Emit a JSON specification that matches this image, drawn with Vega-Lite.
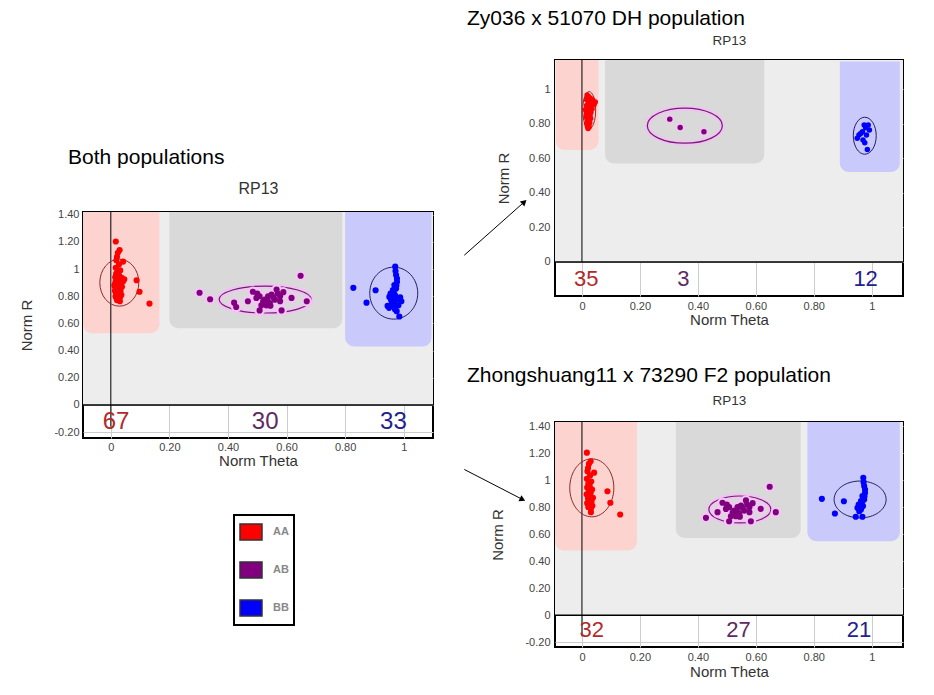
{
  "$schema": "https://vega.github.io/schema/vega-lite/v6.json",
  "padding": {"left": 18, "top": 7, "right": 5, "bottom": 5},
  "background": "white",
  "config": {
    "font": "Liberation Sans",
    "view": {"stroke": "black", "strokeWidth": 2, "fill": "white"},
    "axis": {"grid": true, "gridColor": "#cccccc", "gridWidth": 1, "ticks": false, "domain": false, "labelOverlap": false, "labelFont": "Liberation Sans", "labelFontSize": 11, "labelColor": "#444444", "titleFont": "Liberation Sans", "titleFontSize": 15, "titleFontWeight": "normal", "titleColor": "#333333"},
    "title": {"font": "Liberation Sans", "fontWeight": "normal", "color": "black", "fontSize": 21, "anchor": "start", "frame": "group"}
  },
  "datasets": {
    "pts": [
      {"pop":"DH","g":"AA","t":0.018,"r":0.965},{"pop":"DH","g":"AA","t":0.024,"r":0.955},{"pop":"DH","g":"AA","t":0.030,"r":0.945},{"pop":"DH","g":"AA","t":0.015,"r":0.940},{"pop":"DH","g":"AA","t":0.037,"r":0.936},
      {"pop":"DH","g":"AA","t":0.046,"r":0.925},{"pop":"DH","g":"AA","t":0.021,"r":0.930},{"pop":"DH","g":"AA","t":0.027,"r":0.920},{"pop":"DH","g":"AA","t":0.033,"r":0.915},{"pop":"DH","g":"AA","t":0.042,"r":0.910},
      {"pop":"DH","g":"AA","t":0.016,"r":0.905},{"pop":"DH","g":"AA","t":0.024,"r":0.900},{"pop":"DH","g":"AA","t":0.030,"r":0.895},{"pop":"DH","g":"AA","t":0.019,"r":0.890},{"pop":"DH","g":"AA","t":0.035,"r":0.885},
      {"pop":"DH","g":"AA","t":0.012,"r":0.880},{"pop":"DH","g":"AA","t":0.026,"r":0.875},{"pop":"DH","g":"AA","t":0.021,"r":0.870},{"pop":"DH","g":"AA","t":0.031,"r":0.865},{"pop":"DH","g":"AA","t":0.016,"r":0.860},
      {"pop":"DH","g":"AA","t":0.025,"r":0.855},{"pop":"DH","g":"AA","t":0.020,"r":0.850},{"pop":"DH","g":"AA","t":0.028,"r":0.845},{"pop":"DH","g":"AA","t":0.014,"r":0.840},{"pop":"DH","g":"AA","t":0.023,"r":0.835},
      {"pop":"DH","g":"AA","t":0.030,"r":0.830},{"pop":"DH","g":"AA","t":0.018,"r":0.825},{"pop":"DH","g":"AA","t":0.025,"r":0.820},{"pop":"DH","g":"AA","t":0.020,"r":0.810},{"pop":"DH","g":"AA","t":0.027,"r":0.805},
      {"pop":"DH","g":"AA","t":0.016,"r":0.800},{"pop":"DH","g":"AA","t":0.023,"r":0.795},{"pop":"DH","g":"AA","t":0.019,"r":0.785},{"pop":"DH","g":"AA","t":0.025,"r":0.780},{"pop":"DH","g":"AA","t":0.021,"r":0.772},
      {"pop":"DH","g":"AB","t":0.303,"r":0.826},{"pop":"DH","g":"AB","t":0.339,"r":0.778},{"pop":"DH","g":"AB","t":0.421,"r":0.753},
      {"pop":"DH","g":"BB","t":0.985,"r":0.651},{"pop":"DH","g":"BB","t":0.968,"r":0.753},{"pop":"DH","g":"BB","t":0.956,"r":0.734},{"pop":"DH","g":"BB","t":0.950,"r":0.715},{"pop":"DH","g":"BB","t":0.979,"r":0.776},
      {"pop":"DH","g":"BB","t":0.988,"r":0.792},{"pop":"DH","g":"BB","t":0.974,"r":0.792},{"pop":"DH","g":"BB","t":0.962,"r":0.743},{"pop":"DH","g":"BB","t":0.982,"r":0.734},{"pop":"DH","g":"BB","t":0.970,"r":0.705},
      {"pop":"DH","g":"BB","t":0.992,"r":0.763},{"pop":"DH","g":"BB","t":0.976,"r":0.690},
      {"pop":"F2","g":"AA","t":0.017,"r":1.203},{"pop":"F2","g":"AA","t":0.030,"r":1.140},{"pop":"F2","g":"AA","t":0.024,"r":1.120},{"pop":"F2","g":"AA","t":0.021,"r":1.090},{"pop":"F2","g":"AA","t":0.042,"r":1.055},
      {"pop":"F2","g":"AA","t":0.019,"r":1.065},{"pop":"F2","g":"AA","t":0.028,"r":1.035},{"pop":"F2","g":"AA","t":0.017,"r":1.010},{"pop":"F2","g":"AA","t":0.032,"r":0.990},{"pop":"F2","g":"AA","t":0.022,"r":0.975},
      {"pop":"F2","g":"AA","t":0.027,"r":0.955},{"pop":"F2","g":"AA","t":0.018,"r":0.945},{"pop":"F2","g":"AA","t":0.035,"r":0.930},{"pop":"F2","g":"AA","t":0.024,"r":0.920},{"pop":"F2","g":"AA","t":0.030,"r":0.905},
      {"pop":"F2","g":"AA","t":0.016,"r":0.895},{"pop":"F2","g":"AA","t":0.026,"r":0.885},{"pop":"F2","g":"AA","t":0.038,"r":0.870},{"pop":"F2","g":"AA","t":0.021,"r":0.865},{"pop":"F2","g":"AA","t":0.029,"r":0.850},
      {"pop":"F2","g":"AA","t":0.033,"r":0.840},{"pop":"F2","g":"AA","t":0.018,"r":0.830},{"pop":"F2","g":"AA","t":0.025,"r":0.820},{"pop":"F2","g":"AA","t":0.036,"r":0.810},{"pop":"F2","g":"AA","t":0.022,"r":0.800},
      {"pop":"F2","g":"AA","t":0.031,"r":0.790},{"pop":"F2","g":"AA","t":0.027,"r":0.910},{"pop":"F2","g":"AA","t":0.031,"r":0.763},{"pop":"F2","g":"AA","t":0.088,"r":0.918},{"pop":"F2","g":"AA","t":0.098,"r":0.833},
      {"pop":"F2","g":"AA","t":0.132,"r":0.746},{"pop":"F2","g":"AA","t":0.023,"r":0.960},
      {"pop":"F2","g":"AB","t":0.648,"r":0.951},{"pop":"F2","g":"AB","t":0.428,"r":0.721},{"pop":"F2","g":"AB","t":0.468,"r":0.763},{"pop":"F2","g":"AB","t":0.508,"r":0.696},{"pop":"F2","g":"AB","t":0.583,"r":0.696},
      {"pop":"F2","g":"AB","t":0.617,"r":0.788},{"pop":"F2","g":"AB","t":0.669,"r":0.763},{"pop":"F2","g":"AB","t":0.485,"r":0.833},{"pop":"F2","g":"AB","t":0.508,"r":0.800},{"pop":"F2","g":"AB","t":0.525,"r":0.775},
      {"pop":"F2","g":"AB","t":0.543,"r":0.750},{"pop":"F2","g":"AB","t":0.560,"r":0.775},{"pop":"F2","g":"AB","t":0.578,"r":0.800},{"pop":"F2","g":"AB","t":0.566,"r":0.850},{"pop":"F2","g":"AB","t":0.549,"r":0.812},
      {"pop":"F2","g":"AB","t":0.531,"r":0.733},{"pop":"F2","g":"AB","t":0.514,"r":0.733},{"pop":"F2","g":"AB","t":0.497,"r":0.787},{"pop":"F2","g":"AB","t":0.578,"r":0.763},{"pop":"F2","g":"AB","t":0.589,"r":0.830},
      {"pop":"F2","g":"AB","t":0.537,"r":0.800},{"pop":"F2","g":"AB","t":0.520,"r":0.760},{"pop":"F2","g":"AB","t":0.555,"r":0.790},{"pop":"F2","g":"AB","t":0.570,"r":0.820},{"pop":"F2","g":"AB","t":0.500,"r":0.820},
      {"pop":"F2","g":"AB","t":0.545,"r":0.730},{"pop":"F2","g":"AB","t":0.535,"r":0.770},
      {"pop":"F2","g":"BB","t":0.828,"r":0.862},{"pop":"F2","g":"BB","t":0.873,"r":0.753},{"pop":"F2","g":"BB","t":0.904,"r":0.844},{"pop":"F2","g":"BB","t":0.945,"r":0.729},{"pop":"F2","g":"BB","t":0.968,"r":0.729},
      {"pop":"F2","g":"BB","t":0.971,"r":1.018},{"pop":"F2","g":"BB","t":0.974,"r":0.956},{"pop":"F2","g":"BB","t":0.977,"r":0.907},{"pop":"F2","g":"BB","t":0.968,"r":0.882},{"pop":"F2","g":"BB","t":0.974,"r":0.857},
      {"pop":"F2","g":"BB","t":0.966,"r":0.832},{"pop":"F2","g":"BB","t":0.970,"r":0.808},{"pop":"F2","g":"BB","t":0.957,"r":0.808},{"pop":"F2","g":"BB","t":0.963,"r":0.783},{"pop":"F2","g":"BB","t":0.955,"r":0.820},
      {"pop":"F2","g":"BB","t":0.972,"r":0.985},{"pop":"F2","g":"BB","t":0.977,"r":0.930},{"pop":"F2","g":"BB","t":0.963,"r":0.845},{"pop":"F2","g":"BB","t":0.957,"r":0.770},{"pop":"F2","g":"BB","t":0.951,"r":0.795},
      {"pop":"F2","g":"BB","t":0.975,"r":0.880}
    ],
    "regions": [
      {"panel":"L","g":"bg","x1":-0.095,"x2":1.1,"y1":0,"y2":1.42},
      {"panel":"L","g":"AA","x1":-0.095,"x2":0.166,"y1":0.528,"y2":1.42},
      {"panel":"L","g":"AB","x1":0.2,"x2":0.79,"y1":0.565,"y2":1.42},
      {"panel":"L","g":"BB","x1":0.8,"x2":1.095,"y1":0.43,"y2":1.42},
      {"panel":"T","g":"bg","x1":-0.093,"x2":1.108,"y1":0,"y2":1.168},
      {"panel":"T","g":"AA","x1":-0.09,"x2":0.057,"y1":0.647,"y2":1.168},
      {"panel":"T","g":"AB","x1":0.08,"x2":0.629,"y1":0.57,"y2":1.168},
      {"panel":"T","g":"BB","x1":0.89,"x2":1.097,"y1":0.52,"y2":1.16},
      {"panel":"B","g":"bg","x1":-0.093,"x2":1.108,"y1":0,"y2":1.43},
      {"panel":"B","g":"AA","x1":-0.093,"x2":0.19,"y1":0.48,"y2":1.43},
      {"panel":"B","g":"AB","x1":0.324,"x2":0.755,"y1":0.573,"y2":1.43},
      {"panel":"B","g":"BB","x1":0.778,"x2":1.097,"y1":0.548,"y2":1.43}
    ],
    "ells": [
      {"panel":"L","g":"AA","t":0.029,"r":0.9},
      {"panel":"L","g":"AB","t":0.527,"r":0.776},
      {"panel":"L","g":"BB","t":0.966,"r":0.823},
      {"panel":"T","g":"AA","t":0.025,"r":0.878},
      {"panel":"T","g":"AB","t":0.355,"r":0.788},
      {"panel":"T","g":"BB","t":0.976,"r":0.73},
      {"panel":"B","g":"AA","t":0.034,"r":0.943},
      {"panel":"B","g":"AB","t":0.545,"r":0.783},
      {"panel":"B","g":"BB","t":0.96,"r":0.857}
    ],
    "counts": [
      {"panel":"L","g":"AA","t":0.018,"r":-0.123,"n":"67"},
      {"panel":"L","g":"AB","t":0.527,"r":-0.123,"n":"30"},
      {"panel":"L","g":"BB","t":0.965,"r":-0.123,"n":"33"},
      {"panel":"T","g":"AA","t":0.015,"r":-0.096,"n":"35"},
      {"panel":"T","g":"AB","t":0.35,"r":-0.096,"n":"3"},
      {"panel":"T","g":"BB","t":0.979,"r":-0.096,"n":"12"},
      {"panel":"B","g":"AA","t":0.034,"r":-0.106,"n":"32"},
      {"panel":"B","g":"AB","t":0.54,"r":-0.106,"n":"27"},
      {"panel":"B","g":"BB","t":0.956,"r":-0.106,"n":"21"}
    ],
    "arrows": [
      {"panel":"T","t1":-0.406,"r1":0.039,"t2":-0.199,"r2":0.347},
      {"panel":"B","t1":-0.406,"r1":1.079,"t2":-0.205,"r2":0.857}
    ]
  },
  "spacing": 27,
  "hconcat": [
    {
      "bounds": "flush",
      "spacing": 132,
      "vconcat": [
        {
          "width": 350, "height": 20,
          "view": {"stroke": null},
          "data": {"values": [{}]},
          "mark": {"type": "text", "text": " "}
        },
        {
          "width": 350, "height": 226,
          "title": {"text": "Both populations", "dx": -15, "offset": 12},
          "resolve": {"axis": {"x": "independent"}},
          "layer": [
            {"data":{"name":"regions"},"transform":[{"filter":"datum.panel==='L' && datum.g==='bg'"}],
             "mark":{"type":"rect","color":"#ededed"},
             "encoding":{
               "x":{"field":"x1","type":"quantitative","scale":{"domain":[-0.095,1.1],"nice":false,"zero":false},
                    "axis":{"title":"Norm Theta","values":[0,0.2,0.4,0.6,0.8,1],"tickCount":12,"labelOverlap":false,"labelExpr":"datum.value == 0 ? '0' : datum.value == 1 ? '1' : (datum.value < 0 ? '-' : '') + format(abs(datum.value), '.2f')","labelPadding":3,"titlePadding":1}},
               "x2":{"field":"x2"},
               "y":{"field":"y1","type":"quantitative","scale":{"domain":[-0.243,1.42],"nice":false,"zero":false},
                    "axis":{"title":"Norm R","values":[-0.2,0,0.2,0.4,0.6,0.8,1,1.2,1.4],"tickCount":12,"labelOverlap":false,"labelExpr":"datum.value == 0 ? '0' : datum.value == 1 ? '1' : (datum.value < 0 ? '-' : '') + format(abs(datum.value), '.2f')","labelPadding":4,"titlePadding":19}},
               "y2":{"field":"y2"}}},
            {"data":{"name":"regions"},"transform":[{"filter":"datum.panel==='L' && datum.g!=='bg'"}],
             "mark":{"type":"rect","cornerRadiusBottomLeft":9,"cornerRadiusBottomRight":9},
             "encoding":{"x":{"field":"x1","type":"quantitative","axis":{"orient":"top","title":"RP13","labels":false,"ticks":false,"grid":false,"domain":false,"titleFontSize":16,"titleColor":"#333333","titlePadding":16}},"x2":{"field":"x2"},"y":{"field":"y1","type":"quantitative"},"y2":{"field":"y2"},
               "color":{"condition":[{"test":"datum.g==='AA'","value":"#fdd3d0"},{"test":"datum.g==='AB'","value":"#d9d9d9"}],"value":"#c9c9fb"}}},
            {"data":{"values":[{}]},"mark":{"type":"rule","color":"black","strokeWidth":1.5},"encoding":{"y":{"datum":0}}},
            {"data":{"values":[{}]},"mark":{"type":"rule","color":"black","strokeWidth":1},"encoding":{"x":{"datum":0,"axis":null},"y":{"datum":-0.16},"y2":{"datum":1.42}}},
            {"data":{"name":"counts"},"transform":[{"filter":"datum.panel==='L'"}],
             "mark":{"type":"text","fontSize":24,"font":"Liberation Sans","baseline":"middle","align":"center"},
             "encoding":{"x":{"field":"t","type":"quantitative","axis":null},"y":{"field":"r","type":"quantitative"},"text":{"field":"n"},
               "color":{"condition":[{"test":"datum.g==='AA'","value":"#b22b2b"},{"test":"datum.g==='AB'","value":"#5e2a63"}],"value":"#22228a"}}},
            {"data":{"name":"ells"},"transform":[{"filter":"datum.panel==='L' && datum.g==='AA'"}],
             "mark":{"type":"point","shape":"M -0.83 0 A 0.83 1 0 1 0 0.83 0 A 0.83 1 0 1 0 -0.83 0 Z","size":2209,"filled":false,"stroke":"#8b2a2a","strokeWidth":1,"opacity":1},
             "encoding":{"x":{"field":"t","type":"quantitative","axis":null},"y":{"field":"r","type":"quantitative"}}},
            {"data":{"name":"ells"},"transform":[{"filter":"datum.panel==='L' && datum.g==='AB'"}],
             "mark":{"type":"point","shape":"M -1 0 A 1 0.293 0 1 0 1 0 A 1 0.293 0 1 0 -1 0 Z","size":8464,"filled":false,"stroke":"#f3c1f3","strokeWidth":5,"opacity":1},
             "encoding":{"x":{"field":"t","type":"quantitative","axis":null},"y":{"field":"r","type":"quantitative"}}},
            {"data":{"name":"ells"},"transform":[{"filter":"datum.panel==='L' && datum.g==='AB'"}],
             "mark":{"type":"point","shape":"M -1 0 A 1 0.293 0 1 0 1 0 A 1 0.293 0 1 0 -1 0 Z","size":8464,"filled":false,"stroke":"#6f1f6f","strokeWidth":1.2,"opacity":1},
             "encoding":{"x":{"field":"t","type":"quantitative","axis":null},"y":{"field":"r","type":"quantitative"}}},
            {"data":{"name":"ells"},"transform":[{"filter":"datum.panel==='L' && datum.g==='BB'"}],
             "mark":{"type":"point","shape":"M -0.923 0 A 0.923 1 0 1 0 0.923 0 A 0.923 1 0 1 0 -0.923 0 Z","size":2704,"filled":false,"stroke":"#202060","strokeWidth":1,"opacity":1},
             "encoding":{"x":{"field":"t","type":"quantitative","axis":null},"y":{"field":"r","type":"quantitative"}}},
            {"data":{"name":"pts"},"transform":[{"filter":"datum.g==='AB'"}],
             "mark":{"type":"circle","size":110,"color":"#f3c6f3","opacity":1},
             "encoding":{"x":{"field":"t","type":"quantitative","axis":null},"y":{"field":"r","type":"quantitative"}}},
            {"data":{"name":"pts"},
             "mark":{"type":"circle","size":38,"opacity":1},
             "encoding":{"x":{"field":"t","type":"quantitative","axis":null},"y":{"field":"r","type":"quantitative"},
               "color":{"field":"g","type":"nominal","scale":{"domain":["AA","AB","BB"],"range":["#ff0000","#800080","#0000ff"]},
                 "legend":{"orient":"none","legendX":151,"legendY":455,"title":null,"symbolType":"M -1 -0.73 L 1 -0.73 L 1 0.73 L -1 0.73 Z","symbolSize":484,"symbolOpacity":1,"labelFont":"Liberation Sans","labelFontSize":11,"labelFontWeight":"bold","labelColor":"#888888","labelOffset":10,"rowPadding":14,"padding":5,"strokeColor":"black","fillColor":"white",
                   "encode":{"legend":{"update":{"strokeWidth":{"value":2}}},"symbols":{"update":{"stroke":{"value":"#333333"},"strokeWidth":{"value":1.5}}}}}}}}
          ]
        }
      ]
    },
    {
      "bounds": "flush",
      "spacing": 126,
      "vconcat": [
        {
          "width": 348, "height": 236,
          "title": {"text": "Zy036 x 51070 DH population", "dx": -88, "offset": 4},
          "resolve": {"axis": {"x": "independent"}},
          "layer": [
            {"data":{"name":"regions"},"transform":[{"filter":"datum.panel==='T' && datum.g==='bg'"}],
             "mark":{"type":"rect","color":"#ededed"},
             "encoding":{
               "x":{"field":"x1","type":"quantitative","scale":{"domain":[-0.093,1.108],"nice":false,"zero":false},
                    "axis":{"title":"Norm Theta","values":[0,0.2,0.4,0.6,0.8,1],"tickCount":12,"labelOverlap":false,"labelExpr":"datum.value == 0 ? '0' : datum.value == 1 ? '1' : (datum.value < 0 ? '-' : '') + format(abs(datum.value), '.2f')","labelPadding":4,"titlePadding":1}},
               "x2":{"field":"x2"},
               "y":{"field":"y1","type":"quantitative","scale":{"domain":[-0.197,1.168],"nice":false,"zero":false},
                    "axis":{"title":"Norm R","values":[0,0.2,0.4,0.6,0.8,1],"tickCount":12,"labelOverlap":false,"labelExpr":"datum.value == 0 ? '0' : datum.value == 1 ? '1' : (datum.value < 0 ? '-' : '') + format(abs(datum.value), '.2f')","labelPadding":5,"titlePadding":17}},
               "y2":{"field":"y2"}}},
            {"data":{"name":"regions"},"transform":[{"filter":"datum.panel==='T' && datum.g!=='bg'"}],
             "mark":{"type":"rect","cornerRadiusBottomLeft":9,"cornerRadiusBottomRight":9},
             "encoding":{"x":{"field":"x1","type":"quantitative","axis":{"orient":"top","title":"RP13","labels":false,"ticks":false,"grid":false,"domain":false,"titleFontSize":13.5,"titleColor":"#333333","titlePadding":13}},"x2":{"field":"x2"},"y":{"field":"y1","type":"quantitative"},"y2":{"field":"y2"},
               "color":{"condition":[{"test":"datum.g==='AA'","value":"#fdd3d0"},{"test":"datum.g==='AB'","value":"#d9d9d9"}],"value":"#c9c9fb"}}},
            {"data":{"values":[{}]},"mark":{"type":"rule","color":"black","strokeWidth":1.5},"encoding":{"y":{"datum":0}}},
            {"data":{"values":[{}]},"mark":{"type":"rule","color":"black","strokeWidth":1},"encoding":{"x":{"datum":0,"axis":null},"y":{"datum":0},"y2":{"datum":1.168}}},
            {"data":{"name":"counts"},"transform":[{"filter":"datum.panel==='T'"}],
             "mark":{"type":"text","fontSize":22,"font":"Liberation Sans","baseline":"middle","align":"center"},
             "encoding":{"x":{"field":"t","type":"quantitative","axis":null},"y":{"field":"r","type":"quantitative"},"text":{"field":"n"},
               "color":{"condition":[{"test":"datum.g==='AA'","value":"#b22b2b"},{"test":"datum.g==='AB'","value":"#5e2a63"}],"value":"#22228a"}}},
            {"data":{"name":"ells"},"transform":[{"filter":"datum.panel==='T' && datum.g==='AA'"}],
             "mark":{"type":"point","shape":"M -0.35 0 A 0.35 1 0 1 0 0.35 0 A 0.35 1 0 1 0 -0.35 0 Z","size":1369,"filled":false,"stroke":"#8b2a2a","strokeWidth":1,"opacity":1},
             "encoding":{"x":{"field":"t","type":"quantitative","axis":null},"y":{"field":"r","type":"quantitative"}}},
            {"data":{"name":"ells"},"transform":[{"filter":"datum.panel==='T' && datum.g==='AB'"}],
             "mark":{"type":"point","shape":"M -1 0 A 1 0.467 0 1 0 1 0 A 1 0.467 0 1 0 -1 0 Z","size":5625,"filled":false,"stroke":"#f3c1f3","strokeWidth":5,"opacity":1},
             "encoding":{"x":{"field":"t","type":"quantitative","axis":null},"y":{"field":"r","type":"quantitative"}}},
            {"data":{"name":"ells"},"transform":[{"filter":"datum.panel==='T' && datum.g==='AB'"}],
             "mark":{"type":"point","shape":"M -1 0 A 1 0.467 0 1 0 1 0 A 1 0.467 0 1 0 -1 0 Z","size":5625,"filled":false,"stroke":"#6f1f6f","strokeWidth":1.2,"opacity":1},
             "encoding":{"x":{"field":"t","type":"quantitative","axis":null},"y":{"field":"r","type":"quantitative"}}},
            {"data":{"name":"ells"},"transform":[{"filter":"datum.panel==='T' && datum.g==='BB'"}],
             "mark":{"type":"point","shape":"M -0.62 0 A 0.62 1 0 1 0 0.62 0 A 0.62 1 0 1 0 -0.62 0 Z","size":1369,"filled":false,"stroke":"#202060","strokeWidth":1,"opacity":1},
             "encoding":{"x":{"field":"t","type":"quantitative","axis":null},"y":{"field":"r","type":"quantitative"}}},
            {"data":{"name":"pts"},"transform":[{"filter":"datum.pop==='DH' && datum.g==='AB'"}],
             "mark":{"type":"circle","size":80,"color":"#f3c6f3","opacity":1},
             "encoding":{"x":{"field":"t","type":"quantitative","axis":null},"y":{"field":"r","type":"quantitative"}}},
            {"data":{"name":"pts"},"transform":[{"filter":"datum.pop==='DH'"}],
             "mark":{"type":"circle","size":30,"opacity":1},
             "encoding":{"x":{"field":"t","type":"quantitative","axis":null},"y":{"field":"r","type":"quantitative"},
               "color":{"field":"g","type":"nominal","scale":{"domain":["AA","AB","BB"],"range":["#ff0000","#800080","#0000ff"]},
                 "legend":{"orient":"none","legendX":151,"legendY":455,"title":null,"symbolType":"M -1 -0.73 L 1 -0.73 L 1 0.73 L -1 0.73 Z","symbolSize":484,"symbolOpacity":1,"labelFont":"Liberation Sans","labelFontSize":11,"labelFontWeight":"bold","labelColor":"#888888","labelOffset":10,"rowPadding":14,"padding":5,"strokeColor":"black","fillColor":"white",
                   "encode":{"legend":{"update":{"strokeWidth":{"value":2}}},"symbols":{"update":{"stroke":{"value":"#333333"},"strokeWidth":{"value":1.5}}}}}}}},
            {"data":{"name":"arrows"},"transform":[{"filter":"datum.panel==='T'"}],
             "mark":{"type":"rule","color":"black","strokeWidth":1},
             "encoding":{"x":{"field":"t1","type":"quantitative","axis":null},"y":{"field":"r1","type":"quantitative"},"x2":{"field":"t2"},"y2":{"field":"r2"}}},
            {"data":{"name":"arrows"},"transform":[{"filter":"datum.panel==='T'"}],
             "mark":{"type":"point","shape":"triangle-up","angle":48,"size":45,"filled":true,"color":"black","opacity":1},
             "encoding":{"x":{"field":"t2","type":"quantitative","axis":null},"y":{"field":"r2","type":"quantitative"}}}
          ]
        },
        {
          "width": 348, "height": 225,
          "title": {"text": "Zhongshuang11 x 73290 F2 population", "dx": -88, "offset": 7},
          "resolve": {"axis": {"x": "independent"}},
          "layer": [
            {"data":{"name":"regions"},"transform":[{"filter":"datum.panel==='B' && datum.g==='bg'"}],
             "mark":{"type":"rect","color":"#ededed"},
             "encoding":{
               "x":{"field":"x1","type":"quantitative","scale":{"domain":[-0.093,1.108],"nice":false,"zero":false},
                    "axis":{"title":"Norm Theta","values":[0,0.2,0.4,0.6,0.8,1],"tickCount":12,"labelOverlap":false,"labelExpr":"datum.value == 0 ? '0' : datum.value == 1 ? '1' : (datum.value < 0 ? '-' : '') + format(abs(datum.value), '.2f')","labelPadding":4,"titlePadding":2}},
               "x2":{"field":"x2"},
               "y":{"field":"y1","type":"quantitative","scale":{"domain":[-0.234,1.43],"nice":false,"zero":false},
                    "axis":{"title":"Norm R","values":[-0.2,0,0.2,0.4,0.6,0.8,1,1.2,1.4],"tickCount":12,"labelOverlap":false,"labelExpr":"datum.value == 0 ? '0' : datum.value == 1 ? '1' : (datum.value < 0 ? '-' : '') + format(abs(datum.value), '.2f')","labelPadding":5,"titlePadding":19}},
               "y2":{"field":"y2"}}},
            {"data":{"name":"regions"},"transform":[{"filter":"datum.panel==='B' && datum.g!=='bg'"}],
             "mark":{"type":"rect","cornerRadiusBottomLeft":9,"cornerRadiusBottomRight":9},
             "encoding":{"x":{"field":"x1","type":"quantitative","axis":{"orient":"top","title":"RP13","labels":false,"ticks":false,"grid":false,"domain":false,"titleFontSize":13.5,"titleColor":"#333333","titlePadding":15}},"x2":{"field":"x2"},"y":{"field":"y1","type":"quantitative"},"y2":{"field":"y2"},
               "color":{"condition":[{"test":"datum.g==='AA'","value":"#fdd3d0"},{"test":"datum.g==='AB'","value":"#d9d9d9"}],"value":"#c9c9fb"}}},
            {"data":{"values":[{}]},"mark":{"type":"rule","color":"black","strokeWidth":1.5},"encoding":{"y":{"datum":0}}},
            {"data":{"values":[{}]},"mark":{"type":"rule","color":"black","strokeWidth":1},"encoding":{"x":{"datum":0,"axis":null},"y":{"datum":-0.155},"y2":{"datum":1.43}}},
            {"data":{"name":"counts"},"transform":[{"filter":"datum.panel==='B'"}],
             "mark":{"type":"text","fontSize":22,"font":"Liberation Sans","baseline":"middle","align":"center"},
             "encoding":{"x":{"field":"t","type":"quantitative","axis":null},"y":{"field":"r","type":"quantitative"},"text":{"field":"n"},
               "color":{"condition":[{"test":"datum.g==='AA'","value":"#b22b2b"},{"test":"datum.g==='AB'","value":"#5e2a63"}],"value":"#22228a"}}},
            {"data":{"name":"ells"},"transform":[{"filter":"datum.panel==='B' && datum.g==='AA'"}],
             "mark":{"type":"point","shape":"M -0.76 0 A 0.76 1 0 1 0 0.76 0 A 0.76 1 0 1 0 -0.76 0 Z","size":3364,"filled":false,"stroke":"#8b2a2a","strokeWidth":1,"opacity":1},
             "encoding":{"x":{"field":"t","type":"quantitative","axis":null},"y":{"field":"r","type":"quantitative"}}},
            {"data":{"name":"ells"},"transform":[{"filter":"datum.panel==='B' && datum.g==='AB'"}],
             "mark":{"type":"point","shape":"M -1 0 A 1 0.435 0 1 0 1 0 A 1 0.435 0 1 0 -1 0 Z","size":3844,"filled":false,"stroke":"#f3c1f3","strokeWidth":5,"opacity":1},
             "encoding":{"x":{"field":"t","type":"quantitative","axis":null},"y":{"field":"r","type":"quantitative"}}},
            {"data":{"name":"ells"},"transform":[{"filter":"datum.panel==='B' && datum.g==='AB'"}],
             "mark":{"type":"point","shape":"M -1 0 A 1 0.435 0 1 0 1 0 A 1 0.435 0 1 0 -1 0 Z","size":3844,"filled":false,"stroke":"#6f1f6f","strokeWidth":1.2,"opacity":1},
             "encoding":{"x":{"field":"t","type":"quantitative","axis":null},"y":{"field":"r","type":"quantitative"}}},
            {"data":{"name":"ells"},"transform":[{"filter":"datum.panel==='B' && datum.g==='BB'"}],
             "mark":{"type":"point","shape":"M -1 0 A 1 0.71 0 1 0 1 0 A 1 0.71 0 1 0 -1 0 Z","size":2704,"filled":false,"stroke":"#202060","strokeWidth":1,"opacity":1},
             "encoding":{"x":{"field":"t","type":"quantitative","axis":null},"y":{"field":"r","type":"quantitative"}}},
            {"data":{"name":"pts"},"transform":[{"filter":"datum.pop==='F2' && datum.g==='AB'"}],
             "mark":{"type":"circle","size":110,"color":"#f3c6f3","opacity":1},
             "encoding":{"x":{"field":"t","type":"quantitative","axis":null},"y":{"field":"r","type":"quantitative"}}},
            {"data":{"name":"pts"},"transform":[{"filter":"datum.pop==='F2'"}],
             "mark":{"type":"circle","size":38,"opacity":1},
             "encoding":{"x":{"field":"t","type":"quantitative","axis":null},"y":{"field":"r","type":"quantitative"},
               "color":{"field":"g","type":"nominal","scale":{"domain":["AA","AB","BB"],"range":["#ff0000","#800080","#0000ff"]},
                 "legend":{"orient":"none","legendX":151,"legendY":455,"title":null,"symbolType":"M -1 -0.73 L 1 -0.73 L 1 0.73 L -1 0.73 Z","symbolSize":484,"symbolOpacity":1,"labelFont":"Liberation Sans","labelFontSize":11,"labelFontWeight":"bold","labelColor":"#888888","labelOffset":10,"rowPadding":14,"padding":5,"strokeColor":"black","fillColor":"white",
                   "encode":{"legend":{"update":{"strokeWidth":{"value":2}}},"symbols":{"update":{"stroke":{"value":"#333333"},"strokeWidth":{"value":1.5}}}}}}}},
            {"data":{"name":"arrows"},"transform":[{"filter":"datum.panel==='B'"}],
             "mark":{"type":"rule","color":"black","strokeWidth":1},
             "encoding":{"x":{"field":"t1","type":"quantitative","axis":null},"y":{"field":"r1","type":"quantitative"},"x2":{"field":"t2"},"y2":{"field":"r2"}}},
            {"data":{"name":"arrows"},"transform":[{"filter":"datum.panel==='B'"}],
             "mark":{"type":"point","shape":"triangle-up","angle":117,"size":45,"filled":true,"color":"black","opacity":1},
             "encoding":{"x":{"field":"t2","type":"quantitative","axis":null},"y":{"field":"r2","type":"quantitative"}}}
          ]
        }
      ]
    }
  ]
}
